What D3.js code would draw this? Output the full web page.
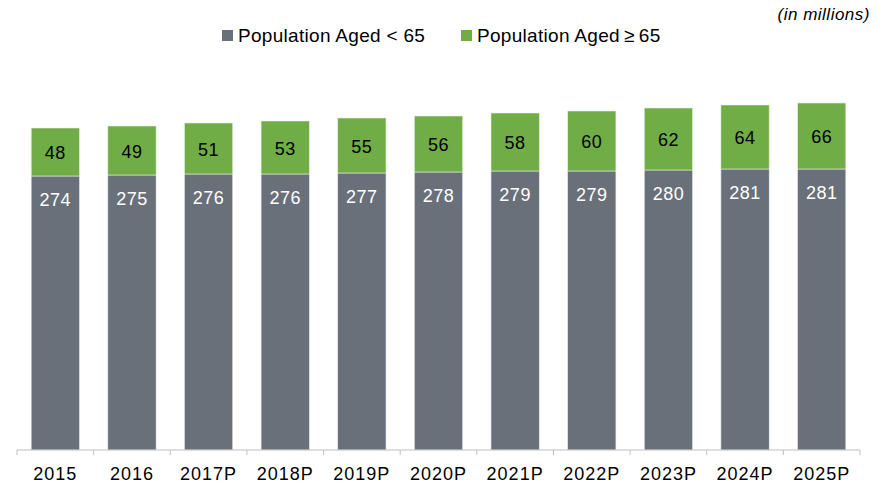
<!DOCTYPE html>
<html><head><meta charset="utf-8">
<script src="https://d3js.org/d3.v7.min.js"></script>
<style>body{margin:0;background:#fff;} svg{display:block;font-family:"Liberation Sans",Arial,sans-serif;}</style>
</head><body>
<script>
const years = ["2015","2016","2017P","2018P","2019P","2020P","2021P","2022P","2023P","2024P","2025P"];
const under65 = [274,275,276,276,277,278,279,279,280,281,281];
const over65 = [48,49,51,53,55,56,58,60,62,64,66];
const seriesNames = ["Population Aged < 65","Population Aged\u2009\u2265\u200965"];
const colors = ["#69707a","#70ad47"];

const W=885,H=485;
const svg=d3.select("body").append("svg").attr("width",W).attr("height",H);
const x=d3.scaleBand().domain(years).range([17,860]).paddingInner(0.37).paddingOuter(0.185);
const y=d3.scaleLinear().domain([0,450]).range([450,0]);

const data=years.map((yr,i)=>({yr,a:under65[i],b:over65[i]}));
const g=svg.append("g");
g.selectAll("rect.a").data(data).join("rect").attr("class","a")
 .attr("x",d=>x(d.yr)).attr("width",x.bandwidth())
 .attr("y",d=>y(d.a)).attr("height",d=>y(0)-y(d.a)).attr("fill",colors[0])
 .attr("stroke","#e6e8ea").attr("stroke-width",0.6);
g.selectAll("rect.b").data(data).join("rect").attr("class","b")
 .attr("x",d=>x(d.yr)).attr("width",x.bandwidth())
 .attr("y",d=>y(d.a+d.b)).attr("height",d=>y(d.a)-y(d.a+d.b)).attr("fill",colors[1])
 .attr("stroke","#e6f0df").attr("stroke-width",0.6);
g.selectAll("text.a").data(data).join("text").attr("class","a")
 .attr("x",d=>x(d.yr)+x.bandwidth()/2).attr("y",d=>y(d.a)+30)
 .attr("text-anchor","middle").attr("fill","#fff").attr("font-size",18).attr("letter-spacing",0.5).text(d=>d.a);
g.selectAll("text.b").data(data).join("text").attr("class","b")
 .attr("x",d=>x(d.yr)+x.bandwidth()/2).attr("y",d=>(y(d.a)+y(d.a+d.b))/2+7)
 .attr("text-anchor","middle").attr("fill","#000").attr("font-size",18).attr("letter-spacing",0.5).text(d=>d.b);

// axis
const ax=svg.append("g").attr("transform","translate(0,450)");
ax.append("line").attr("x1",17).attr("x2",860).attr("stroke","#bfbfbf").attr("stroke-width",1);
const tickX=d3.range(years.length+1).map(i=>17+i*(843/years.length));
ax.selectAll("line.t").data(tickX).join("line").attr("class","t")
 .attr("x1",d=>d).attr("x2",d=>d).attr("y1",0).attr("y2",5).attr("stroke","#bfbfbf");
ax.selectAll("text").data(years).join("text")
 .attr("x",d=>x(d)+x.bandwidth()/2).attr("y",30).attr("text-anchor","middle")
 .attr("font-size",18).attr("letter-spacing",1).attr("fill","#000").text(d=>d);

// legend
const leg=svg.append("g");
const lx=[222,461];
seriesNames.forEach((n,i)=>{
  leg.append("rect").attr("x",lx[i]).attr("y",30).attr("width",11).attr("height",11).attr("fill",colors[i]);
  leg.append("text").attr("x",lx[i]+16).attr("y",42).attr("font-size",19).attr("letter-spacing",0.3).attr("fill","#000").text(n);
});
svg.append("text").attr("x",870).attr("y",20).attr("text-anchor","end").attr("font-style","italic")
 .attr("font-size",17).attr("letter-spacing",0.5).attr("fill","#000").text("(in millions)");
</script>
</body></html>
